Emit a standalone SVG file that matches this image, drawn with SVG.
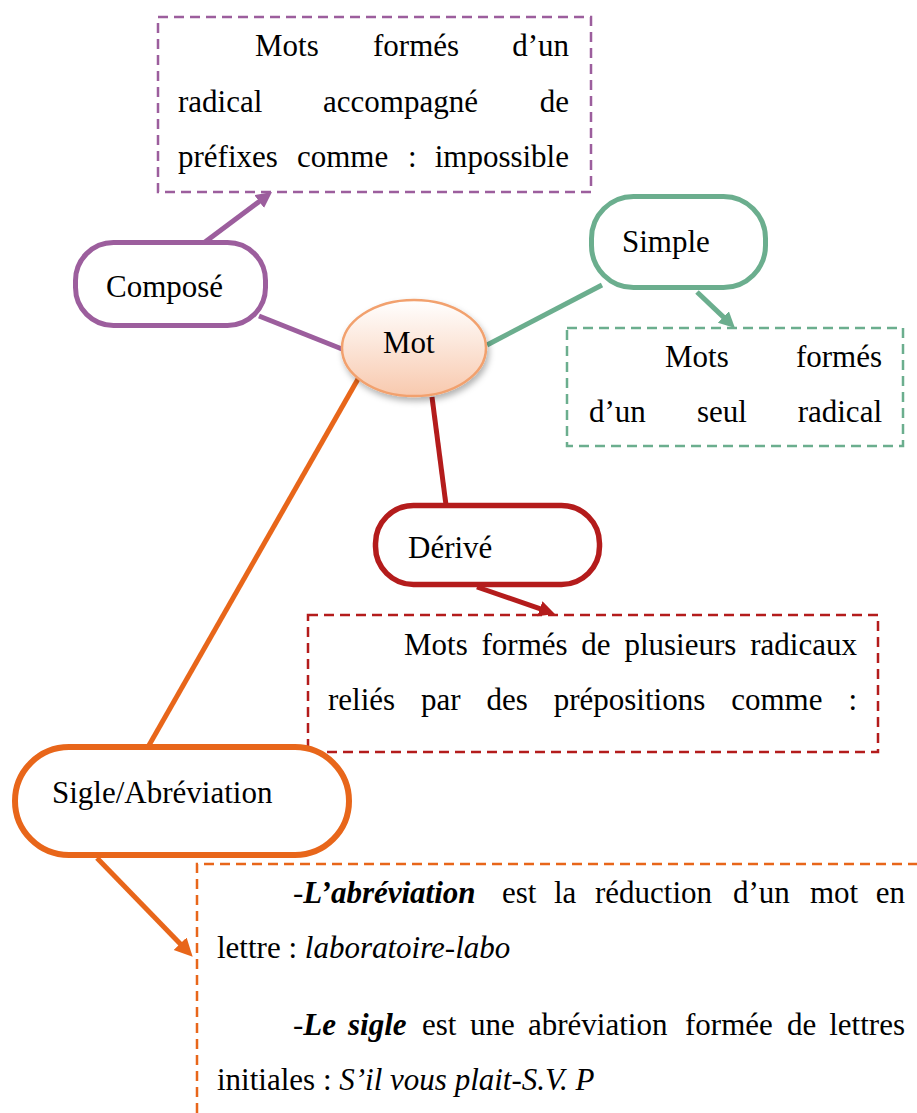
<svg xmlns="http://www.w3.org/2000/svg" width="917" height="1113" viewBox="0 0 917 1113">
<style>
text{font-family:"Liberation Serif","DejaVu Serif",serif;font-size:31px;fill:#000}
.e{text-anchor:end}
.bi{font-weight:bold;font-style:italic}
.i{font-style:italic}
.node{fill:#fff}
.conn{fill:none;stroke-width:5;stroke-linecap:butt}
.box{fill:none;stroke-width:2.5;stroke-dasharray:10 6}
.pu{stroke:#9C5E9D}
.gr{stroke:#6BAE8E}
.rd{stroke:#B41C1C}
.or{stroke:#E8661A}
</style>
<defs>
<marker id="ap" markerUnits="userSpaceOnUse" markerWidth="18" markerHeight="18" refX="6" refY="8" orient="auto"><path d="M0,0 L16,8 L0,16 z" fill="#9C5E9D"/></marker>
<marker id="ag" markerUnits="userSpaceOnUse" markerWidth="18" markerHeight="18" refX="6" refY="8" orient="auto"><path d="M0,0 L16,8 L0,16 z" fill="#6BAE8E"/></marker>
<marker id="ar" markerUnits="userSpaceOnUse" markerWidth="18" markerHeight="18" refX="6" refY="8" orient="auto"><path d="M0,0 L16,8 L0,16 z" fill="#B41C1C"/></marker>
<marker id="ao" markerUnits="userSpaceOnUse" markerWidth="20" markerHeight="20" refX="7" refY="9" orient="auto"><path d="M0,0 L18,9 L0,18 z" fill="#E8661A"/></marker>
<linearGradient id="mg" x1="0" y1="0" x2="0" y2="1">
<stop offset="0" stop-color="#FFFFFF"/>
<stop offset="1" stop-color="#F8C9AE"/>
</linearGradient>
<filter id="sh" x="-20%" y="-20%" width="140%" height="150%">
<feDropShadow dx="2" dy="4" stdDeviation="3" flood-color="#000" flood-opacity="0.3"/>
</filter>
</defs>

<g id="connectors">
<line class="conn pu" x1="259" y1="316" x2="342" y2="349"/>
<line class="conn gr" x1="602" y1="285" x2="487" y2="345"/>
<line class="conn rd" x1="432" y1="397" x2="446" y2="505"/>
<line class="conn or" x1="366" y1="365" x2="148" y2="747"/>
<line class="conn pu" x1="197" y1="248" x2="264" y2="198" marker-end="url(#ap)"/>
<line class="conn gr" x1="697" y1="292" x2="727.7" y2="321.1" marker-end="url(#ag)"/>
<line class="conn rd" x1="477" y1="587" x2="545.5" y2="610.7" marker-end="url(#ar)"/>
<line class="conn or" x1="97" y1="858" x2="185" y2="948.8" marker-end="url(#ao)"/>
</g>

<g id="box-compose">
<rect class="box pu" x="158" y="17" width="433" height="175"/>
<text y="56"><tspan x="255">Mots</tspan><tspan x="373">formés</tspan></text>
<text class="e" x="569" y="56">d’un</text>
<text y="112"><tspan x="178">radical</tspan><tspan x="323">accompagné</tspan></text>
<text class="e" x="569" y="112">de</text>
<text y="167"><tspan x="178">préfixes</tspan><tspan x="297">comme</tspan><tspan x="408">:</tspan></text>
<text class="e" x="569" y="167">impossible</text>
</g>

<g id="box-simple">
<rect class="box gr" x="567" y="328" width="336" height="118"/>
<text x="665" y="367">Mots</text>
<text class="e" x="882" y="367">formés</text>
<text y="422"><tspan x="589">d’un</tspan><tspan x="697">seul</tspan></text>
<text class="e" x="882" y="422">radical</text>
</g>

<g id="box-derive">
<rect class="box rd" x="308" y="615" width="570" height="137" stroke-width="3"/>
<text y="655"><tspan x="404">Mots</tspan><tspan x="481.5">formés</tspan><tspan x="581.3">de</tspan><tspan x="624.4">plusieurs</tspan></text>
<text class="e" x="857" y="655">radicaux</text>
<text y="710"><tspan x="328">reliés</tspan><tspan x="421">par</tspan><tspan x="486.5">des</tspan><tspan x="553.7">prépositions</tspan><tspan x="731.2">comme</tspan></text>
<text class="e" x="857" y="710">:</text>
</g>

<g id="box-sigle">
<path class="box or" d="M197,1113 V864 H917"/>
<text y="903"><tspan x="293">-</tspan><tspan class="bi">L’abréviation</tspan><tspan x="502">est</tspan><tspan x="554">la</tspan><tspan x="595">réduction</tspan><tspan x="733">d’un</tspan><tspan x="810">mot</tspan></text>
<text class="e" x="905" y="903">en</text>
<text x="217" y="958">lettre : <tspan class="i">laboratoire-labo</tspan></text>
<text y="1035"><tspan x="293">-</tspan><tspan class="bi">Le</tspan><tspan class="bi" x="348">sigle</tspan><tspan x="422">est</tspan><tspan x="470">une</tspan><tspan x="528">abréviation</tspan><tspan x="685">formée</tspan><tspan x="787">de</tspan></text>
<text class="e" x="905" y="1035">lettres</text>
<text x="217" y="1090">initiales : <tspan class="i">S’il vous plait-S.V. P</tspan></text>
</g>

<g id="node-compose">
<rect class="node pu" x="75.5" y="242.5" width="190" height="83" rx="38" stroke-width="5"/>
<text x="106" y="297">Composé</text>
</g>

<g id="node-simple">
<rect class="node gr" x="591.5" y="196.5" width="174" height="91" rx="42" stroke-width="5"/>
<text x="622" y="252">Simple</text>
</g>

<g id="node-derive">
<rect class="node rd" x="375.5" y="505.5" width="224" height="79" rx="38" stroke-width="5.5"/>
<text x="408" y="558">Dérivé</text>
</g>

<g id="node-sigle">
<rect class="node or" x="15" y="747" width="334" height="108" rx="54" stroke-width="6"/>
<text x="52" y="803">Sigle/Abréviation</text>
</g>

<g id="node-mot">
<ellipse cx="414" cy="348" rx="72" ry="48" fill="url(#mg)" stroke="#F2A16E" stroke-width="2.5" filter="url(#sh)"/>
<text x="383" y="353">Mot</text>
</g>
</svg>
